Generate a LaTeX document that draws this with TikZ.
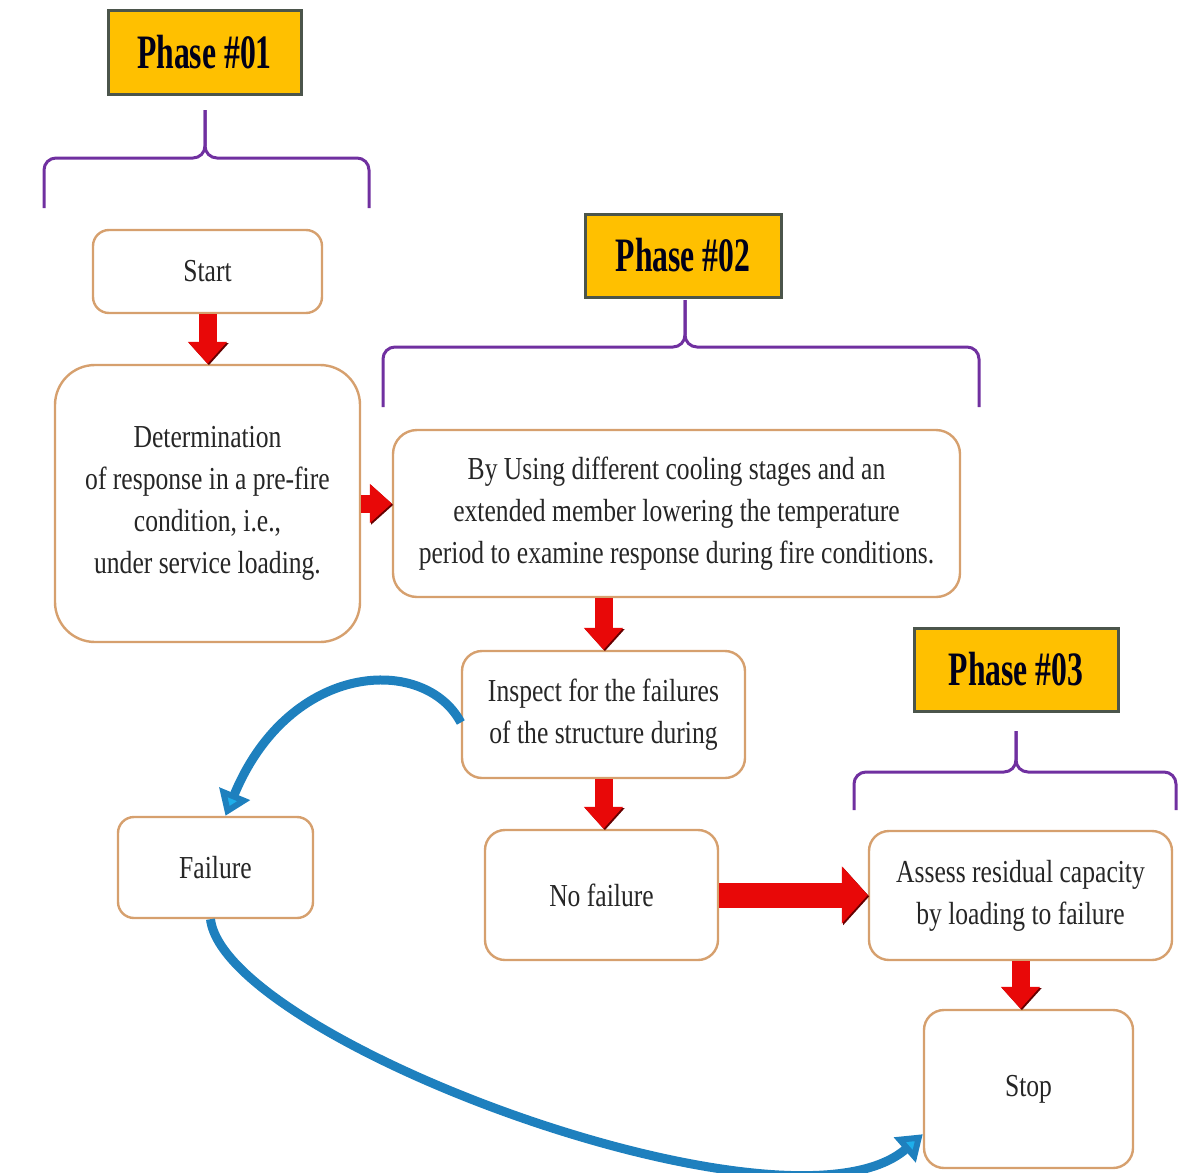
\documentclass[tikz,border=0pt]{standalone}
\usepackage{fontspec}
\setmainfont{Liberation Serif}[FakeStretch=0.8]
\newfontfamily\phasefont{Liberation Serif}[FakeStretch=0.66]
\usetikzlibrary{arrows.meta,calc}

\definecolor{boxline}{RGB}{214,160,110}
\definecolor{phasefill}{RGB}{255,192,0}
\definecolor{phaseline}{RGB}{75,85,75}
\definecolor{bracecol}{RGB}{112,48,160}
\definecolor{arrowred}{RGB}{232,8,8}
\definecolor{arrowblue}{RGB}{30,128,190}
\definecolor{arrowcyan}{RGB}{30,175,235}

% brace: left x, right x, stem x, bar y, leg y, tip y
\newcommand{\phbrace}[6]{%
  \draw[brace] (#1,#5) -- (#1,#4) -- (#3,#4) -- (#3,#6);
  \draw[brace] (#2,#5) -- (#2,#4) -- (#3,#4) -- (#3,#6);}

\begin{document}
\begin{tikzpicture}[x=0.5pt, y=-0.5pt,
  box/.style={draw=boxline, line width=1.2pt, fill=white, align=center,
    text=black!85, inner sep=0pt, font=\fontsize{16}{21}\selectfont},
  phase/.style={draw=phaseline, line width=1.5pt, fill=phasefill, inner sep=0pt,
    text=black!90!blue, font=\phasefont\fontsize{24}{28}\selectfont\bfseries},
  brace/.style={draw=bracecol, line width=1.5pt, rounded corners=6pt},
  redarrow/.style={draw=arrowred, line width=9pt,
    preaction={draw=red!40!black, transform canvas={shift={(0.7pt,-0.7pt)}}},
    -{Triangle[length=11pt,width=19pt]}},
  bigarrow/.style={redarrow, line width=12.5pt, -{Triangle[length=13pt,width=28pt]}},
  bluearrow/.style={draw=arrowblue, line width=4.5pt,
    -{Triangle[length=12pt,width=16pt,fill=arrowcyan]}}]
\useasboundingbox (0,0) rectangle (1179,1173);

% Phases
\node[phase, minimum width=96.5pt, minimum height=42pt] (ph1) at (204.5,52) {Phase \#01};
\node[phase, minimum width=98pt, minimum height=41.5pt] (ph2) at (683,255.5) {Phase \#02};
\node[phase, minimum width=102pt, minimum height=41.5pt] (ph3) at (1016,669.5) {Phase \#03};

% Braces
\phbrace{44}{369}{205}{158}{208}{110}
\phbrace{383}{979}{685}{347}{407}{300}
\phbrace{854}{1176}{1016}{772}{810}{731}

% Steps
\node[box, rounded corners=8pt, minimum width=114.5pt, minimum height=41.5pt] (start) at (207.5,271.5) {Start};
\node[box, rounded corners=20pt, minimum width=152.5pt, minimum height=138.5pt] (det) at (207.5,503.5)
  {Determination\\of response in a pre-fire\\condition, i.e.,\\under service loading.};
\node[box, rounded corners=12pt, minimum width=283.5pt, minimum height=83.5pt] (by) at (676.5,513.5)
  {By Using different cooling stages and an\\extended member lowering the temperature\\period to examine response during fire conditions.};
\node[box, rounded corners=10pt, minimum width=141.5pt, minimum height=63.5pt] (inspect) at (603.5,714.5)
  {Inspect for the failures\\of the structure during};
\node[box, rounded corners=10pt, minimum width=116.5pt, minimum height=65pt] (nofail) at (601.5,895) {No failure};
\node[box, rounded corners=10pt, minimum width=151.5pt, minimum height=64.5pt] (assess) at (1020.5,895.5)
  {Assess residual capacity\\by loading to failure};
\node[box, rounded corners=10pt, minimum width=104.5pt, minimum height=79pt] (stop) at (1028.5,1089) {Stop};
\node[box, rounded corners=8pt, minimum width=97.5pt, minimum height=50.5pt] (failure) at (215.5,867.5) {Failure};

% Red arrows
\draw[redarrow] (start.south) -- (det.north);
\draw[redarrow] (det.east) -- (det.east -| by.west);
\draw[redarrow] (by.south -| inspect.north) -- (inspect.north);
\draw[redarrow] (inspect.south) -- (inspect.south |- nofail.north);
\draw[bigarrow] (nofail.east) -- (nofail.east -| assess.west);
\draw[redarrow] (assess.south) -- (assess.south |- stop.north);

% Blue arrows
\draw[bluearrow] ($(inspect.west)+(0,8)$) .. controls (425,655) and (290,660) .. ($(failure.north)+(10,0)$);
\draw[bluearrow] ($(failure.south)+(-5,0)$) .. controls (225,1040) and (790,1250) .. ($(stop.south west)+(0,-35)$);
\end{tikzpicture}
\end{document}
